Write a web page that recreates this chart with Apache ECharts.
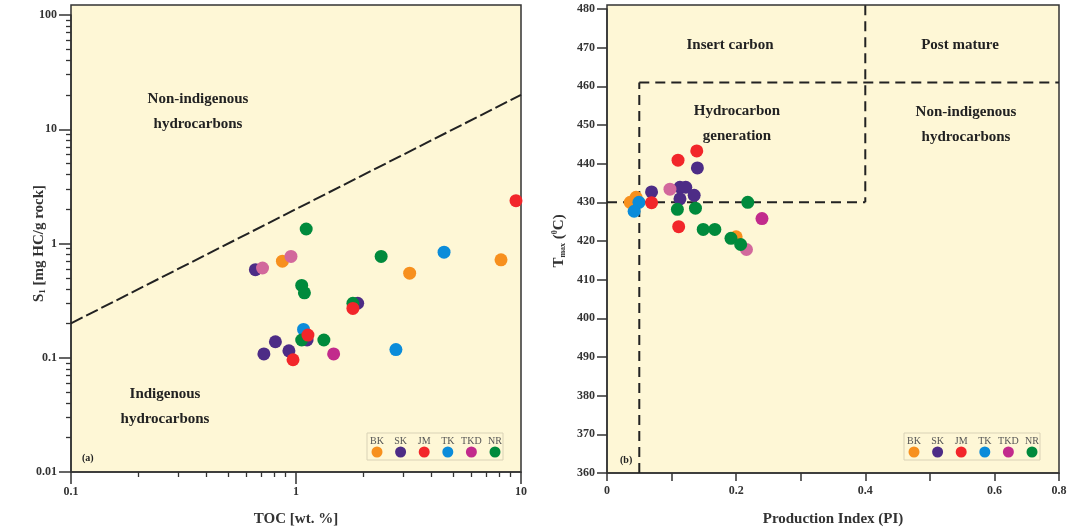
<!DOCTYPE html>
<html>
<head>
<meta charset="utf-8">
<script src="https://cdn.jsdelivr.net/npm/echarts@6/dist/echarts.min.js"></script>
<style>
html,body{margin:0;padding:0;background:#fff;}
#c{width:1074px;height:532px;}
</style>
</head>
<body>
<div id="c"></div>
<script>
// ---------- DATA ----------
const groups = ['BK', 'SK', 'JM', 'TK', 'TKD', 'NR'];
const groupColors = ['#F7901E', '#4D2C86', '#F2262A', '#0B8CDA', '#C22B8C', '#008A3C'];
const tkdPaleColor = '#D2689C';

// Panel (a): TOC [wt.%] vs S1 [mg HC/g rock]
const tocBK = [0.87, 3.2, 8.15];
const s1BK  = [0.70, 0.55, 0.72];
const tocSK = [0.66, 1.88, 0.81, 1.12, 0.72, 0.93];
const s1SK  = [0.59, 0.30, 0.138, 0.143, 0.108, 0.115];
const tocJM = [9.5, 1.79, 1.13, 0.97];
const s1JM  = [2.37, 0.27, 0.158, 0.096];
const tocTK = [4.55, 1.08, 2.78];
const s1TK  = [0.84, 0.177, 0.118];
const tocTKD = [1.47];
const s1TKD  = [0.108];
const tocTKDpale = [0.71, 0.95];
const s1TKDpale  = [0.61, 0.77];
const tocNR = [1.11, 2.39, 1.06, 1.09, 1.79, 1.06, 1.33];
const s1NR  = [1.34, 0.77, 0.43, 0.37, 0.30, 0.143, 0.143];

// Boundary line S1 = 2 x TOC
const boundaryTOC = [0.1, 10];
const boundaryS1  = [0.2, 20];

// Panel (b): Production Index vs Tmax
const piBK = [0.045, 0.036, 0.200];
const tmBK = [431.3, 430, 421.1];
const piSK = [0.140, 0.069, 0.113, 0.122, 0.135, 0.113];
const tmSK = [438.9, 432.7, 433.9, 433.9, 431.8, 430.9];
const piJM = [0.139, 0.110, 0.069, 0.111];
const tmJM = [443.3, 440.9, 429.9, 423.7];
const piTK = [0.0495, 0.042];
const tmTK = [430, 427.7];
const piTKD = [0.240];
const tmTKD = [425.8];
const piTKDpale = [0.0975, 0.216];
const tmTKDpale = [433.4, 417.8];
const piNR = [0.109, 0.137, 0.218, 0.149, 0.167, 0.192, 0.207];
const tmNR = [428.2, 428.5, 430, 423.0, 423.0, 420.7, 419.1];

// Zone boundaries (b)
const piLow = 0.05, piHigh = 0.4, piMax = 0.7, piMin = 0;
const tmLow = 430, tmHigh = 461, tmMin = 360, tmTop = 481;

// Tick labels
const piTickLabels = ['0', '', '0.2', '', '0.4', '', '0.6', '0.8'];
const tmTickLabels = ['360', '370', '380', '490', '400', '410', '420', '430', '440', '450', '460', '470', '480'];
const logMinorX = [0.2,0.3,0.4,0.5,0.6,0.7,0.8,0.9,2,3,4,5,6,7,8,9];
const logMinorY = [0.02,0.03,0.04,0.05,0.06,0.07,0.08,0.09,0.2,0.3,0.4,0.5,0.6,0.7,0.8,0.9,2,3,4,5,6,7,8,9,20,30,40,50,60,70,80,90];

// ---------- CHART ----------
const zip = (a, b) => a.map((v, i) => [v, b[i]]);
const SERIF = '"Liberation Serif", "DejaVu Serif", serif';
const BG = '#FEF7D6';
const AX = '#333';

const chart = echarts.init(document.getElementById('c'), null, {renderer: 'canvas'});

function scat(name, data, color, xi, yi) {
  return {
    type: 'scatter', name, data, xAxisIndex: xi, yAxisIndex: yi,
    symbol: 'circle', symbolSize: 13,
    itemStyle: {color: color, opacity: 1},
    z: 5, silent: true
  };
}
function dash(data, xi, yi, dashArr) {
  return {
    type: 'line', data, xAxisIndex: xi, yAxisIndex: yi,
    showSymbol: false, symbol: 'none', clip: false, silent: true,
    lineStyle: {color: '#222', width: 2, type: dashArr},
    z: 3
  };
}

const labelStyle = {fontFamily: SERIF, fontWeight: 'bold', fontSize: 12, color: '#333'};
const nameStyle = {fontFamily: SERIF, fontWeight: 'bold', fontSize: 15, color: '#333'};

const gridA = {left: 71, right: 553};
const gridB = {left: 607, right: 15};

const option = {
  animation: false,
  backgroundColor: '#fff',
  grid: [
    {left: gridA.left, right: gridA.right, top: 5, bottom: 60, show: true, backgroundColor: BG, borderColor: AX, borderWidth: 1.5, z: 0},
    {left: gridA.left, right: gridA.right, top: 15, bottom: 60},
    {left: gridB.left, right: gridB.right, top: 5, bottom: 59, show: true, backgroundColor: BG, borderColor: AX, borderWidth: 1.5, z: 0},
    {left: gridB.left, right: gridB.right, top: 9, bottom: 59}
  ],
  xAxis: [
    {gridIndex: 0, type: 'value', show: false},
    {gridIndex: 1, type: 'log', min: 0.1, max: 10, logBase: 10,
      axisLine: {show: true, onZero: false, lineStyle: {color: AX, width: 1.5}},
      axisTick: {show: true, inside: false, length: 12, lineStyle: {color: AX, width: 1.5}},
      axisLabel: Object.assign({margin: 14}, labelStyle),
      splitLine: {show: false},
      name: 'TOC [wt. %]', nameLocation: 'middle', nameGap: 40, nameTextStyle: nameStyle},
    {gridIndex: 1, type: 'value', min: Math.log10(0.1), max: Math.log10(10), position: 'bottom',
      axisLine: {show: false, onZero: false},
      axisTick: {show: true, length: 5, customValues: logMinorX.map(Math.log10), lineStyle: {color: AX, width: 1.3}},
      axisLabel: {show: false}, splitLine: {show: false}},
    {gridIndex: 2, type: 'value', show: false},
    {gridIndex: 3, type: 'value', min: piMin, max: piMax, interval: 0.1,
      axisLine: {show: true, onZero: false, lineStyle: {color: AX, width: 1.5}},
      axisTick: {show: true, length: 8, lineStyle: {color: AX, width: 1.5}},
      axisLabel: Object.assign({margin: 12, formatter: v => piTickLabels[Math.round(v * 10)] || ''}, labelStyle),
      splitLine: {show: false},
      name: 'Production Index (PI)', nameLocation: 'middle', nameGap: 39, nameTextStyle: nameStyle}
  ],
  yAxis: [
    {gridIndex: 0, type: 'value', show: false},
    {gridIndex: 1, type: 'log', min: 0.01, max: 100, logBase: 10,
      axisLine: {show: true, onZero: false, lineStyle: {color: AX, width: 1.5}},
      axisTick: {show: true, inside: false, length: 12, lineStyle: {color: AX, width: 1.5}},
      axisLabel: Object.assign({margin: 14}, labelStyle),
      splitLine: {show: false},
      name: 'S{sub|1} [mg HC/g rock]', nameLocation: 'middle', nameGap: 24, nameMoveOverlap: false,
      nameTextStyle: Object.assign({rich: {sub: {fontFamily: SERIF, fontWeight: 'bold', fontSize: 9, color: '#333', verticalAlign: 'bottom', padding: [6, 0, 0, 0]}}}, nameStyle)},
    {gridIndex: 1, type: 'value', min: Math.log10(0.01), max: Math.log10(100), position: 'left',
      axisLine: {show: false, onZero: false},
      axisTick: {show: true, length: 5, customValues: logMinorY.map(Math.log10), lineStyle: {color: AX, width: 1.3}},
      axisLabel: {show: false}, splitLine: {show: false}},
    {gridIndex: 2, type: 'value', show: false},
    {gridIndex: 3, type: 'value', min: tmMin, max: 480, interval: 10,
      axisLine: {show: true, onZero: false, lineStyle: {color: AX, width: 1.5}},
      axisTick: {show: true, length: 10, lineStyle: {color: AX, width: 1.5}},
      axisLabel: Object.assign({margin: 12, formatter: v => tmTickLabels[Math.round((v - tmMin) / 10)] || ''}, labelStyle),
      splitLine: {show: false},
      name: 'T{sub|max} ({sup|0}C)', nameLocation: 'middle', nameGap: 40,
      nameTextStyle: Object.assign({rich: {
        sub: {fontFamily: SERIF, fontWeight: 'bold', fontSize: 8, color: '#333', padding: [7, 0, 0, 0]},
        sup: {fontFamily: SERIF, fontWeight: 'bold', fontSize: 8, color: '#333', padding: [0, 0, 8, 0]}
      }}, nameStyle)}
  ],
  series: [
    dash(zip(boundaryTOC, boundaryS1), 1, 1, [13, 4]),
    scat('BK', zip(tocBK, s1BK), groupColors[0], 1, 1),
    scat('SK', zip(tocSK, s1SK), groupColors[1], 1, 1),
    scat('TK', zip(tocTK, s1TK), groupColors[3], 1, 1),
    scat('TKD', zip(tocTKD, s1TKD), groupColors[4], 1, 1),
    scat('TKD pale', zip(tocTKDpale, s1TKDpale), tkdPaleColor, 1, 1),
    scat('NR', zip(tocNR, s1NR), groupColors[5], 1, 1),
    scat('JM', zip(tocJM, s1JM), groupColors[2], 1, 1),

    dash([[piLow, tmMin], [piLow, tmHigh]], 4, 4, [10, 6]),
    dash([[piLow, tmHigh], [piMax, tmHigh]], 4, 4, [10, 6]),
    dash([[piHigh, tmTop], [piHigh, tmLow]], 4, 4, [10, 6]),
    dash([[piMin, tmLow], [piHigh, tmLow]], 4, 4, [10, 6]),
    scat('BK', zip(piBK, tmBK), groupColors[0], 4, 4),
    scat('TK', zip(piTK, tmTK), groupColors[3], 4, 4),
    scat('SK', zip(piSK, tmSK), groupColors[1], 4, 4),
    scat('JM', zip(piJM, tmJM), groupColors[2], 4, 4),
    scat('TKD', zip(piTKD, tmTKD), groupColors[4], 4, 4),
    scat('TKD pale', zip(piTKDpale, tmTKDpale), tkdPaleColor, 4, 4),
    scat('NR', zip(piNR, tmNR), groupColors[5], 4, 4)
  ]
};

// annotations & legends
function txt(x, y, text, size, align) {
  return {type: 'text', x, y, z: 10, silent: true,
    style: {text, fill: '#222', font: 'bold ' + size + 'px ' + SERIF, textAlign: align || 'center', textVerticalAlign: 'middle', lineHeight: 25}};
}
function legendBox(x0, y0) {
  const children = [{type: 'rect', shape: {x: 0, y: 0, width: 136, height: 27},
    style: {fill: BG, stroke: '#D9D2B6', lineWidth: 1}}];
  groups.forEach((g, i) => {
    const cx = 10 + i * 23.6;
    children.push({type: 'text', x: cx, y: 8, style: {text: g, fill: '#555', font: '10px ' + SERIF, textAlign: 'center', textVerticalAlign: 'middle'}});
    children.push({type: 'circle', shape: {cx: cx, cy: 19, r: 5.5}, style: {fill: groupColors[i]}});
  });
  return {type: 'group', x: x0, y: y0, z: 10, silent: true, children};
}
option.graphic = [
  txt(198, 112, 'Non-indigenous\nhydrocarbons', 15),
  txt(165, 407, 'Indigenous\nhydrocarbons', 15),
  txt(82, 458, '(a)', 10, 'left'),
  txt(730, 45, 'Insert carbon', 15),
  txt(960, 45, 'Post mature', 15),
  txt(737, 124, 'Hydrocarbon\ngeneration', 15),
  txt(966, 125, 'Non-indigenous\nhydrocarbons', 15),
  txt(620, 460, '(b)', 10, 'left'),
  legendBox(367, 433),
  legendBox(904, 433)
];

chart.setOption(option);
</script>
</body>
</html>
